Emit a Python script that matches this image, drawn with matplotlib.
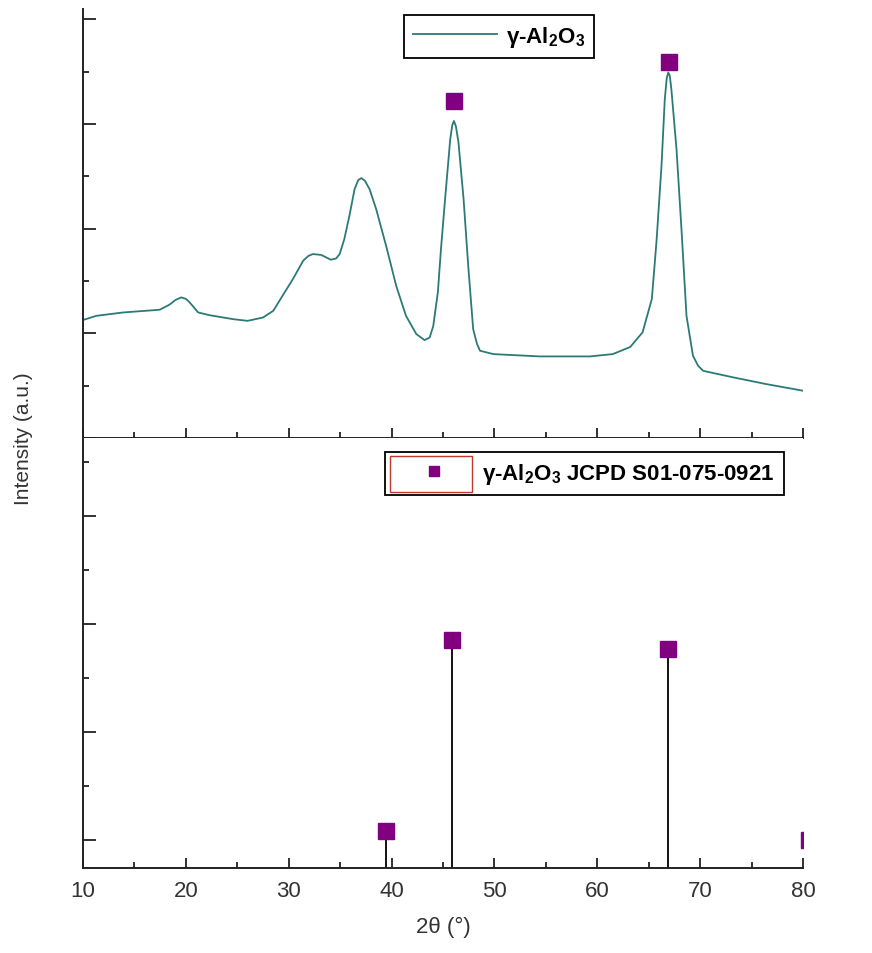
import matplotlib
matplotlib.use("Agg")
import matplotlib.pyplot as plt
from matplotlib.lines import Line2D
from matplotlib.patches import Rectangle
from matplotlib.ticker import MultipleLocator

plt.rcParams["font.family"] = ["Liberation Sans", "DejaVu Sans"]
plt.rcParams["mathtext.default"] = "regular"

# ── measured XRD pattern (2θ, intensity a.u.) ────────────────────────────────
two_theta = [10, 11.3, 13.9, 17.45, 18.4, 19.0, 19.55, 20.0, 20.37, 21.2, 22.3,
             24.6, 26.0, 27.5, 28.5, 29.4, 30.4, 31.4, 31.9, 32.35, 33.16,
             34.1, 34.6, 34.95, 35.4, 35.9, 36.4, 36.75, 37.05, 37.4, 37.86,
             38.5, 39.47, 40.45, 41.4, 42.4, 43.2, 43.7, 44.05, 44.5, 44.8,
             45.2, 45.7, 45.9, 46.06, 46.25, 46.5, 47.0, 47.45, 47.93, 48.3,
             48.6, 49.9, 54.4, 59.3, 61.5, 63.2, 64.4, 65.3, 65.75, 66.24,
             66.56, 66.75, 66.9, 67.05, 67.2, 67.7, 68.2, 68.67, 69.3, 69.8,
             70.3, 73.2, 76.4, 80]
intensity = [564, 584, 600, 613, 637, 660, 672, 665, 648, 600, 587,
             568, 560, 576, 608, 680, 759, 847, 870, 879, 875,
             852, 858, 879, 950, 1062, 1189, 1232, 1242, 1230, 1189,
             1094, 918, 727, 584, 497, 468, 480, 535, 697, 903,
             1141, 1428, 1495, 1515, 1490, 1414, 1141, 823, 521, 450,
             417, 401, 390, 390, 401, 435, 505, 664, 936, 1300,
             1619, 1720, 1747, 1730, 1667, 1380, 984, 584, 393, 345,
             321, 290, 258, 226]

# peak markers on the pattern
peak_pos = [46.06, 67.0]
peak_mark = [1611, 1799]

# reference card JCPDS 01-075-0921
ref_pos = [39.45, 45.86, 66.85, 80.55]
ref_int = [1.7, 37.0, 35.3, 0.0]

TEAL = "#2b7a78"
PURPLE = "#800080"

fig = plt.figure(figsize=(8.72, 9.54), dpi=100, facecolor="white")
ax_top = fig.add_axes([0.0952, 0.5398, 0.8257, 0.4497])
ax_bot = fig.add_axes([0.0952, 0.0891, 0.8257, 0.4507], sharex=ax_top)

# ── top: pattern ─────────────────────────────────────────────────────────────
ax_top.plot(two_theta, intensity, color=TEAL, lw=1.3)
ax_top.plot(peak_pos, peak_mark, ls="none", marker="s", ms=11,
            color=PURPLE, mec=PURPLE)
ax_top.set_ylim(0, 2050)
ax_top.yaxis.set_major_locator(MultipleLocator(500))
ax_top.yaxis.set_minor_locator(MultipleLocator(250))

# ── bottom: reference lines ─────────────────────────────────────────────────
ax_bot.set_ylim(-5.2, 74.4)
ax_bot.vlines(ref_pos, -5.2, ref_int, color="black", lw=1.3)
ax_bot.plot(ref_pos, ref_int, ls="none", marker="s", ms=11,
            color=PURPLE, mec=PURPLE, clip_on=True)
ax_bot.yaxis.set_major_locator(MultipleLocator(20))
ax_bot.yaxis.set_minor_locator(MultipleLocator(10))

ax_bot.set_xlim(10, 80)
ax_bot.xaxis.set_major_locator(MultipleLocator(10))
ax_bot.xaxis.set_minor_locator(MultipleLocator(5))

for a in (ax_top, ax_bot):
    a.spines[["top", "right"]].set_visible(False)
    for s in ("left", "bottom"):
        a.spines[s].set_linewidth(1.4)
        a.spines[s].set_color("#222222")
    a.tick_params(which="both", direction="in", width=1.3, color="#222222",
                  labelleft=False)
    a.tick_params(axis="y", which="major", length=9)
    a.tick_params(axis="y", which="minor", length=4.5)
    a.tick_params(axis="x", which="major", length=7.5)
    a.tick_params(axis="x", which="minor", length=4.5)

ax_top.tick_params(axis="x", labelbottom=False)
ax_bot.tick_params(axis="x", labelsize=16, labelcolor="#333333", pad=9)
ax_bot.set_xlabel("2θ (°)", fontsize=16, color="#333333", labelpad=10)
fig.text(0.027, 0.54, "Intensity (a.u.)", rotation=90, fontsize=15,
         color="#333333", ha="center", va="center")

# ── legends ──────────────────────────────────────────────────────────────────
leg_font = {"weight": "bold", "size": 16}
h1 = Line2D([], [], color=TEAL, lw=1.3)
leg1 = ax_top.legend([h1], ["γ-Al$_2$O$_3$"], loc="center",
                     bbox_to_anchor=(0.578, 0.936), prop=leg_font,
                     handlelength=3.8, handletextpad=0.4, borderpad=0.4,
                     borderaxespad=0,
                     fancybox=False, edgecolor="black", framealpha=1)
leg1.get_frame().set_linewidth(1.3)

h2 = Line2D([], [], ls="none", marker="s", ms=7, color=PURPLE)
leg2 = ax_bot.legend([h2], ["γ-Al$_2$O$_3$ JCPD S01-075-0921"],
                     loc="center left", bbox_to_anchor=(0.419, 0.917),
                     prop=leg_font, handlelength=3.6, handletextpad=0.4,
                     borderpad=0.4, borderaxespad=0,
                     fancybox=False, edgecolor="black", framealpha=1)
leg2.get_frame().set_linewidth(1.3)

# red frame round the legend symbol
fig.add_artist(Rectangle((390 / 872, 1 - 493 / 954), 82 / 872, 36 / 954,
                         transform=fig.transFigure, fill=False,
                         ec="#c0392b", lw=1.0, zorder=10))

fig.savefig("out.png", dpi=100, facecolor="white")
